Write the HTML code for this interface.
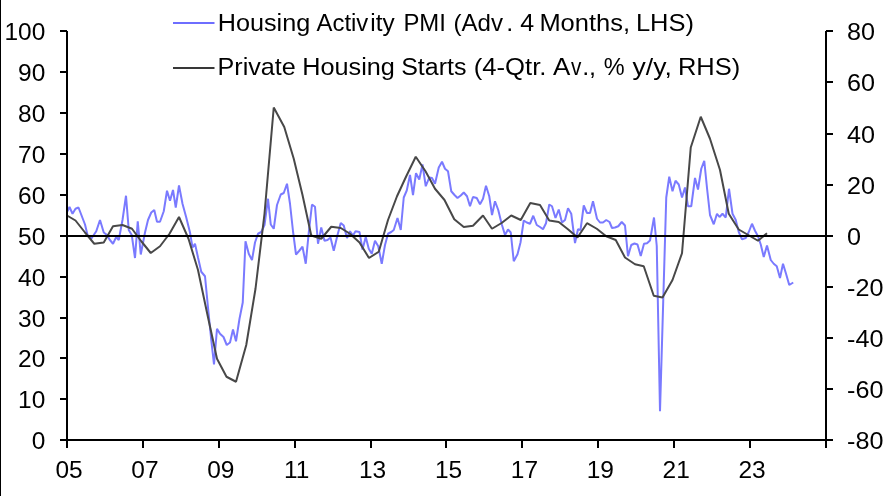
<!DOCTYPE html>
<html><head><meta charset="utf-8"><title>Chart</title>
<style>html,body{margin:0;padding:0;background:#fff}svg{display:block}text{font-family:"Liberation Sans",sans-serif;font-size:24px;fill:#000}</style></head>
<body>
<svg style="will-change:transform" width="887" height="496" viewBox="0 0 887 496">
<rect width="887" height="496" fill="#fff"/>
<rect x="0" y="0" width="1" height="496" fill="#000"/>
<polyline fill="none" stroke="#7a7aff" stroke-width="2" stroke-linejoin="bevel" points="67.00,212.00 69.50,207.00 72.50,213.75 75.50,208.75 78.50,207.50 85.00,224.50 87.50,235.00 91.25,238.75 96.25,231.25 100.00,220.00 103.75,232.50 107.00,235.00 109.50,239.50 113.00,243.75 116.25,237.00 118.75,240.00 122.50,220.00 126.00,195.75 128.75,230.00 131.75,235.00 135.00,258.00 137.75,221.25 140.75,254.50 145.00,232.50 148.00,220.00 151.25,212.50 154.25,210.00 157.00,221.75 160.00,221.75 163.75,211.25 167.00,190.75 170.00,200.75 173.00,190.00 175.75,207.50 179.00,185.50 182.50,203.75 186.25,217.50 190.00,232.50 192.50,247.50 195.00,243.75 198.00,257.50 201.25,271.75 205.00,276.25 208.00,307.50 211.25,340.00 214.00,364.50 217.00,328.75 220.00,333.75 223.50,337.00 226.75,345.00 230.00,342.50 233.00,329.50 236.00,341.25 239.50,318.75 242.75,302.50 245.50,241.25 248.75,253.75 252.00,260.00 255.00,242.50 258.00,233.75 261.25,232.00 264.50,225.00 268.00,198.75 270.75,224.50 273.75,228.75 277.00,205.00 280.75,194.50 283.75,193.00 287.00,183.75 290.00,203.75 293.00,231.25 296.00,254.50 299.25,250.75 302.50,246.75 305.75,263.75 308.75,232.50 312.00,204.50 315.00,206.75 318.00,243.75 321.25,227.50 324.50,240.75 327.50,240.00 330.50,237.50 333.75,250.75 337.50,235.00 340.75,223.00 343.75,225.50 347.00,238.00 350.00,231.25 353.00,235.50 355.50,231.25 359.50,232.00 362.50,249.50 365.75,237.00 368.75,248.75 371.75,253.75 375.00,240.75 378.25,246.25 381.75,263.75 385.00,245.00 388.00,233.75 391.25,232.00 393.75,230.00 397.50,218.00 400.75,230.00 403.75,197.50 406.75,190.50 410.00,175.00 413.00,195.00 416.00,173.25 419.25,179.50 422.50,164.50 425.75,186.25 429.25,177.50 432.00,178.00 435.00,183.75 438.75,167.50 442.00,161.75 445.00,168.75 448.00,171.25 451.25,191.25 454.50,195.00 457.50,198.00 460.75,195.50 463.75,192.50 467.00,196.25 470.00,206.25 473.00,197.00 476.75,198.00 480.00,204.25 483.00,198.75 486.00,185.75 489.25,196.25 492.00,215.00 495.00,201.25 498.25,210.00 501.75,224.25 505.00,235.00 508.00,229.50 510.75,232.50 513.75,261.25 517.50,254.25 520.50,242.50 523.75,220.50 526.75,222.50 530.00,223.75 533.25,215.75 536.75,225.00 540.00,227.00 543.00,229.25 546.00,223.25 549.25,204.50 552.00,206.25 555.50,218.00 558.75,209.50 562.00,222.50 565.00,220.00 568.00,208.25 571.25,213.75 575.00,243.00 578.00,229.25 580.50,230.00 583.75,205.50 587.00,213.00 590.00,213.00 593.00,201.25 597.00,218.75 600.00,222.50 603.00,222.50 606.25,220.00 609.50,222.00 612.00,228.00 615.00,227.50 618.25,226.25 621.75,222.00 625.00,225.50 628.00,256.25 631.25,245.00 634.50,243.50 637.50,244.50 640.75,256.00 644.00,243.75 647.00,243.25 650.00,240.50 654.00,217.50 656.75,246.00 660.00,411.20 663.20,302.00 666.25,197.50 669.25,176.75 672.50,191.25 675.50,180.75 678.75,184.50 682.00,197.50 685.00,187.50 688.00,206.25 691.25,206.25 695.00,178.00 698.00,189.50 701.25,168.75 704.25,160.75 707.00,188.00 710.00,215.00 713.75,224.25 717.00,213.75 719.50,217.00 722.50,213.75 725.75,217.50 729.00,188.75 732.50,213.75 735.75,220.00 738.75,232.00 742.00,239.25 745.75,238.00 748.75,232.00 752.00,223.75 755.00,230.75 758.00,236.25 760.75,244.50 763.75,257.00 767.00,245.50 770.75,260.00 773.75,263.75 776.75,266.25 780.00,278.00 783.00,263.75 786.25,274.50 789.25,285.00 793.25,282.50"/>
<polyline fill="none" stroke="#484848" stroke-width="2" stroke-linejoin="bevel" points="67.00,215.50 75.50,220.50 85.00,232.50 94.25,243.75 103.75,242.50 113.00,226.25 122.50,225.00 132.00,228.75 141.25,241.25 150.75,253.00 160.00,246.25 169.50,233.75 179.00,217.00 188.50,238.75 198.00,270.00 207.50,315.00 217.00,358.75 226.50,376.75 236.00,381.75 246.25,345.00 255.50,288.75 264.50,213.75 273.75,107.50 284.25,127.00 293.75,158.75 302.50,195.00 311.25,235.50 321.25,238.75 331.25,226.75 340.75,228.00 350.00,233.75 359.50,242.50 369.00,258.00 378.75,251.75 388.00,220.00 397.00,196.25 406.25,176.25 415.75,156.75 425.50,171.25 435.00,188.75 444.50,200.00 454.25,219.25 463.75,227.00 473.00,225.75 483.00,215.50 492.00,228.75 501.60,223.00 511.25,215.50 520.75,220.00 530.30,203.00 540.00,205.00 549.25,220.50 558.75,222.00 568.25,229.50 577.50,237.50 587.00,223.20 596.75,228.75 606.25,236.25 615.75,240.00 625.00,257.50 635.00,264.25 643.75,266.25 653.75,295.75 662.50,297.50 672.50,280.00 682.00,253.25 690.75,147.50 700.75,116.75 710.00,138.75 720.00,170.00 728.75,213.75 738.75,229.50 748.25,235.00 758.00,240.75 767.00,233.25"/>
<g fill="#000" shape-rendering="crispEdges">
<rect x="66" y="31" width="2" height="417"/>
<rect x="825" y="31" width="2" height="417"/>
<rect x="60" y="439" width="773" height="2"/>
<rect x="66" y="235" width="767" height="2"/>
<rect x="60" y="30" width="7" height="2"/>
<rect x="60" y="71" width="7" height="2"/>
<rect x="60" y="112" width="7" height="2"/>
<rect x="60" y="153" width="7" height="2"/>
<rect x="60" y="194" width="7" height="2"/>
<rect x="60" y="235" width="7" height="2"/>
<rect x="60" y="276" width="7" height="2"/>
<rect x="60" y="317" width="7" height="2"/>
<rect x="60" y="357" width="7" height="2"/>
<rect x="60" y="398" width="7" height="2"/>
<rect x="60" y="439" width="7" height="2"/>
<rect x="826" y="30" width="7" height="2"/>
<rect x="826" y="81" width="7" height="2"/>
<rect x="826" y="133" width="7" height="2"/>
<rect x="826" y="184" width="7" height="2"/>
<rect x="826" y="235" width="7" height="2"/>
<rect x="826" y="286" width="7" height="2"/>
<rect x="826" y="337" width="7" height="2"/>
<rect x="826" y="388" width="7" height="2"/>
<rect x="826" y="439" width="7" height="2"/>
<rect x="142" y="440" width="2" height="8"/>
<rect x="218" y="440" width="2" height="8"/>
<rect x="294" y="440" width="2" height="8"/>
<rect x="370" y="440" width="2" height="8"/>
<rect x="445" y="440" width="2" height="8"/>
<rect x="521" y="440" width="2" height="8"/>
<rect x="597" y="440" width="2" height="8"/>
<rect x="673" y="440" width="2" height="8"/>
<rect x="749" y="440" width="2" height="8"/>
</g>
<g>
<text transform="translate(45.30,39.70) scale(1.02,1)" text-anchor="end">100</text>
<text transform="translate(45.30,80.70) scale(1.02,1)" text-anchor="end">90</text>
<text transform="translate(45.30,121.70) scale(1.02,1)" text-anchor="end">80</text>
<text transform="translate(45.30,162.70) scale(1.02,1)" text-anchor="end">70</text>
<text transform="translate(45.30,203.70) scale(1.02,1)" text-anchor="end">60</text>
<text transform="translate(45.30,244.70) scale(1.02,1)" text-anchor="end">50</text>
<text transform="translate(45.30,285.70) scale(1.02,1)" text-anchor="end">40</text>
<text transform="translate(45.30,326.70) scale(1.02,1)" text-anchor="end">30</text>
<text transform="translate(45.30,366.70) scale(1.02,1)" text-anchor="end">20</text>
<text transform="translate(45.30,407.70) scale(1.02,1)" text-anchor="end">10</text>
<text transform="translate(45.30,448.70) scale(1.02,1)" text-anchor="end">0</text>
<text transform="translate(847.00,39.60) scale(1.05,1)">80</text>
<text transform="translate(847.00,90.60) scale(1.05,1)">60</text>
<text transform="translate(847.00,142.60) scale(1.05,1)">40</text>
<text transform="translate(847.00,193.60) scale(1.05,1)">20</text>
<text transform="translate(847.00,244.60) scale(1.05,1)">0</text>
<text transform="translate(847.00,295.60) scale(1.05,1)">-20</text>
<text transform="translate(847.00,346.60) scale(1.05,1)">-40</text>
<text transform="translate(847.00,397.60) scale(1.05,1)">-60</text>
<text transform="translate(847.00,448.60) scale(1.05,1)">-80</text>
<text transform="translate(69.00,477.90) scale(1.02,1)" text-anchor="middle">05</text>
<text transform="translate(144.90,477.90) scale(1.02,1)" text-anchor="middle">07</text>
<text transform="translate(220.80,477.90) scale(1.02,1)" text-anchor="middle">09</text>
<text transform="translate(296.70,477.90) scale(1.02,1)" text-anchor="middle">11</text>
<text transform="translate(372.60,477.90) scale(1.02,1)" text-anchor="middle">13</text>
<text transform="translate(448.50,477.90) scale(1.02,1)" text-anchor="middle">15</text>
<text transform="translate(524.40,477.90) scale(1.02,1)" text-anchor="middle">17</text>
<text transform="translate(600.30,477.90) scale(1.02,1)" text-anchor="middle">19</text>
<text transform="translate(676.20,477.90) scale(1.02,1)" text-anchor="middle">21</text>
<text transform="translate(752.10,477.90) scale(1.02,1)" text-anchor="middle">23</text>
<line x1="173" y1="23" x2="214.5" y2="23" stroke="#6e6eff" stroke-width="2"/>
<line x1="173" y1="68" x2="214.5" y2="68" stroke="#383838" stroke-width="2"/>
<text transform="translate(217.70,30.60) scale(1.0509,1)">Housing</text>
<text transform="translate(316.50,30.60) scale(0.9961,1)">Activ</text>
<text transform="translate(370.28,30.60) scale(1.0135,1)">ity</text>
<text transform="translate(403.41,30.60) scale(0.9974,1)">PMI</text>
<text transform="translate(453.39,30.60) scale(1.0042,1)">(Adv</text>
<text transform="translate(506.19,30.60) scale(1.0500,1)">.</text>
<text transform="translate(520.18,30.60) scale(1.0410,1)">4</text>
<text transform="translate(539.38,30.60) scale(1.0616,1)">Months,</text>
<text transform="translate(635.88,30.60) scale(1.0625,1)">LHS)</text>
<text transform="translate(217.50,75.00) scale(1.0488,1)">Private</text>
<text transform="translate(302.19,75.00) scale(1.0533,1)">Housing</text>
<text transform="translate(401.15,75.00) scale(1.0428,1)">Starts</text>
<text transform="translate(473.70,75.00) scale(1.0700,1)">(4-Qtr.</text>
<text transform="translate(552.89,75.00) scale(1.0818,1)">A</text>
<text transform="translate(570.91,75.00) scale(0.8644,1)">v</text>
<text transform="translate(582.19,75.00) scale(1.0500,1)">.</text>
<text transform="translate(589.09,75.00) scale(1.0500,1)">,</text>
<text transform="translate(603.72,75.00) scale(0.9797,1)">%</text>
<text transform="translate(632.59,75.00) scale(1.1051,1)">y/y,</text>
<text transform="translate(677.88,75.00) scale(1.0616,1)">RHS)</text>
</g>
</svg>
</body></html>
